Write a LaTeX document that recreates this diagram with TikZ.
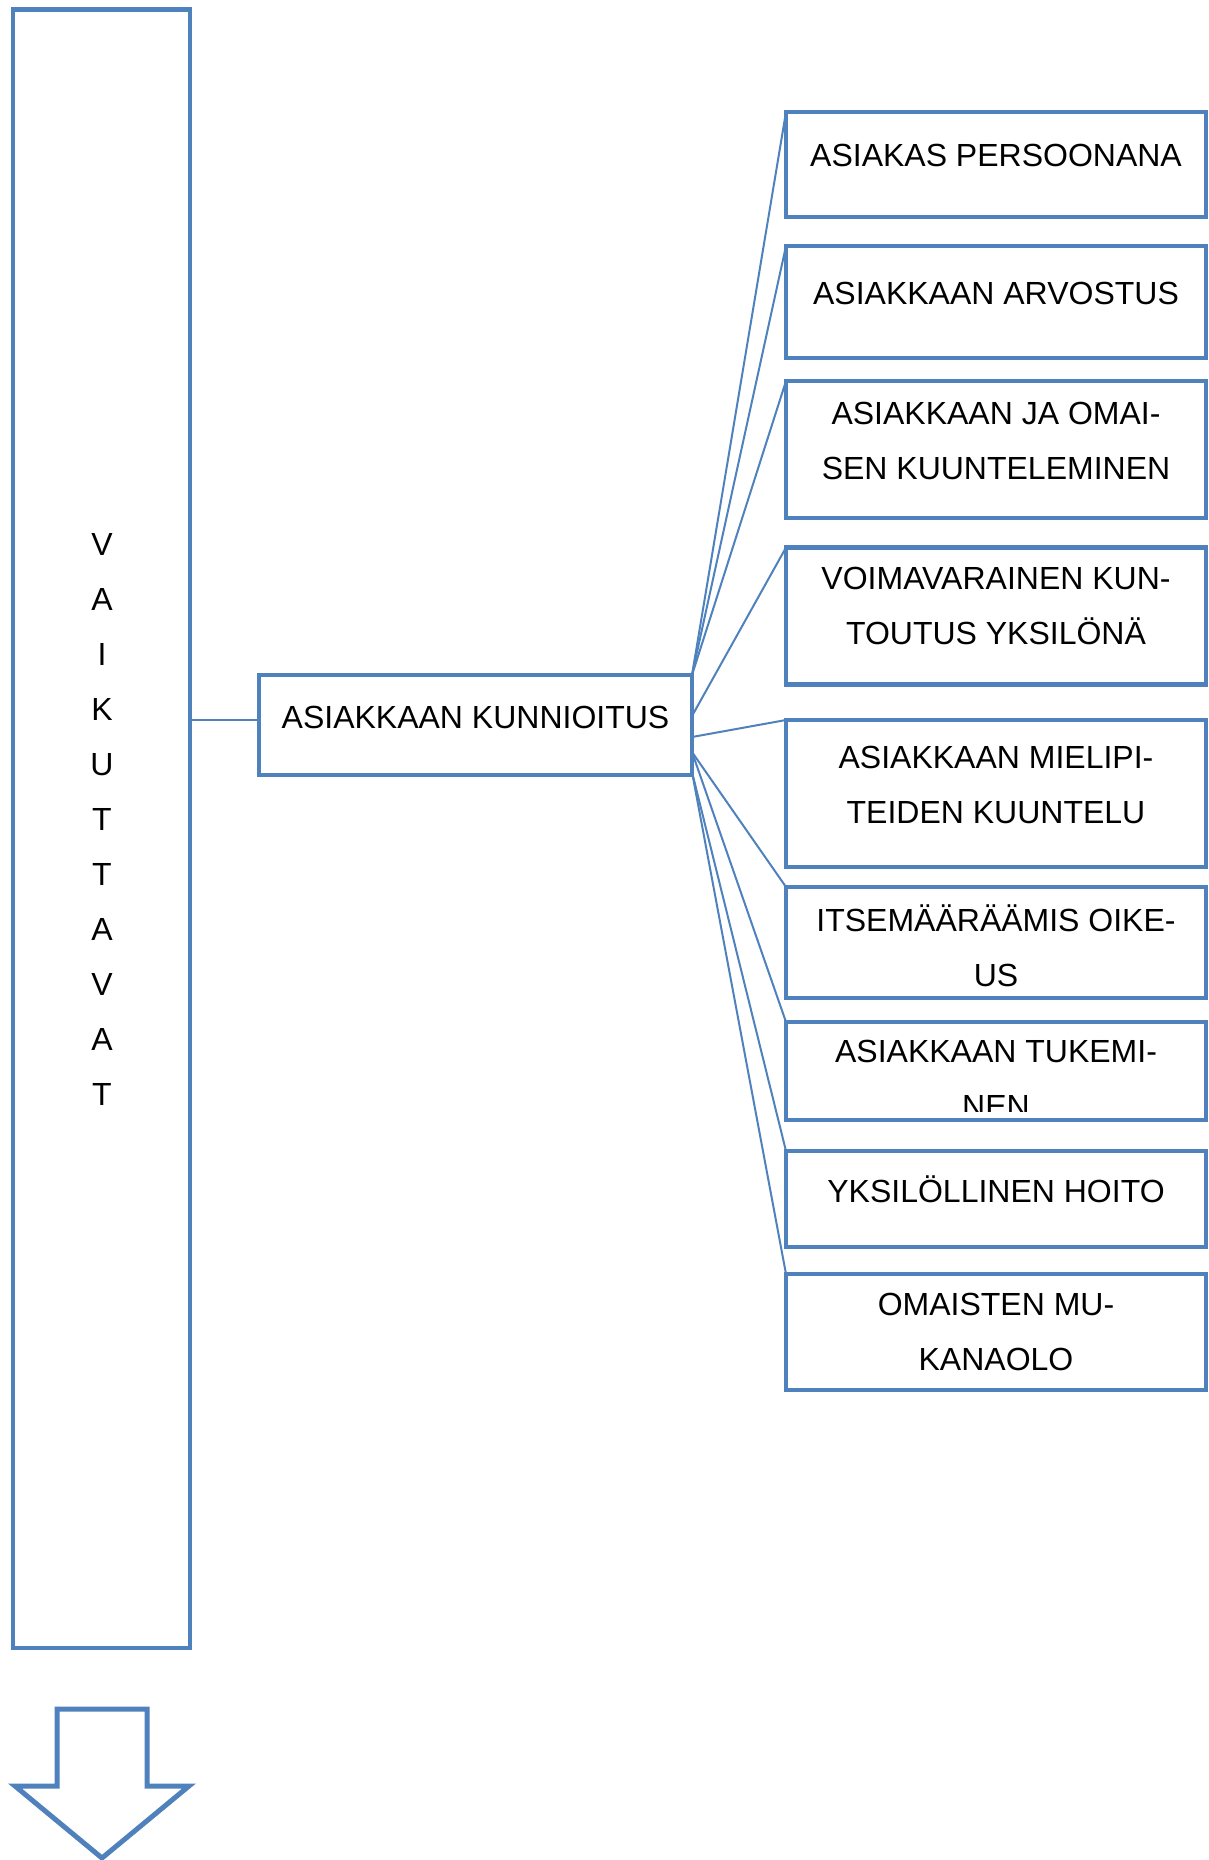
\documentclass[tikz,border=0pt]{standalone}
\usepackage{fontspec}
\setmainfont{Liberation Sans}
\usepackage{tikz}
\definecolor{boxblue}{RGB}{79,129,189}
\newcommand{\diagfont}{\fontsize{16pt}{27.5pt}\selectfont}

\begin{document}
\begin{tikzpicture}[x=0.5pt, y=-0.5pt,
    box/.style={draw=boxblue, line width=2.1pt, inner sep=0pt, outer sep=0pt},
    txt/.style={font=\diagfont, align=center, inner sep=0pt},
    link/.style={draw=boxblue, line width=1pt}]

          \useasboundingbox (0,0) rectangle (1209,1860);

          \node[box, minimum width=88.5pt, minimum height=819.25pt] (tall) at (101.5,828.75) {};
          \node[txt] (vert) at (102,819.5) {V\\A\\I\\K\\U\\T\\T\\A\\V\\A\\T};

          \node[box, minimum width=216.5pt, minimum height=50pt] (mid) at (475.5,725) {};
          \node[txt] (midtxt) at (475.5,717) {ASIAKKAAN KUNNIOITUS};

          \coordinate (m) at ([yshift=2.5pt]mid.west);
          \draw[link] (m) -- (m -| tall.east);

          \foreach \i/\y/\h/\d/\t in {
              1/164.5/52.5pt/-9.5/ASIAKAS PERSOONANA,
              2/302/56pt/-9/ASIAKKAAN ARVOSTUS,
              3/449.5/68.5pt/-8.5/ASIAKKAAN JA OMAI-\\SEN KUUNTELEMINEN,
              4/616/68.5pt/-10/VOIMAVARAINEN KUN-\\TOUTUS YKSILÖNÄ,
              5/793.5/73.5pt/-8.5/ASIAKKAAN MIELIPI-\\TEIDEN KUUNTELU,
              6/942.5/55.5pt/3.5/ITSEMÄÄRÄÄMIS OIKE-\\US,
              7/1071/49pt/8/ASIAKKAAN TUKEMI-\\NEN,
              8/1199/48pt/-10/YKSILÖLLINEN HOITO,
              9/1332/58pt/0/OMAISTEN MU-\\KANAOLO}{
            \node[box, minimum width=210pt, minimum height=\h] (b\i) at (996,\y) {};
            \begin{scope}
              \clip (b\i.north west) rectangle ([yshift=4.5pt]b\i.south east);
              \node[txt] (t\i) at (996,{\y+(\d)}) {\t};
            \end{scope}
          }

          \coordinate (fa) at (mid.north east);
          \coordinate (fb) at ([yshift=4.5pt]mid.east);
          \coordinate (fc) at ([yshift=-6pt]mid.east);
          \coordinate (fd) at ([yshift=-13.5pt]mid.east);
          \coordinate (fe) at ([yshift=-23.5pt]mid.east);

          \foreach \j/\s in {1/fa,2/fa,3/fa,4/fb,5/fc,6/fd,7/fd,8/fe,9/fe}{
            \draw[link] (\s) -- (b\j.north west);
          }

          \draw[boxblue, line width=2.5pt, line join=miter]
            (57,1709) -- (147,1709) -- (147,1786) -- (189,1786) -- (102,1858)
            -- (15,1786) -- (57,1786) -- cycle;
\end{tikzpicture}
\end{document}
